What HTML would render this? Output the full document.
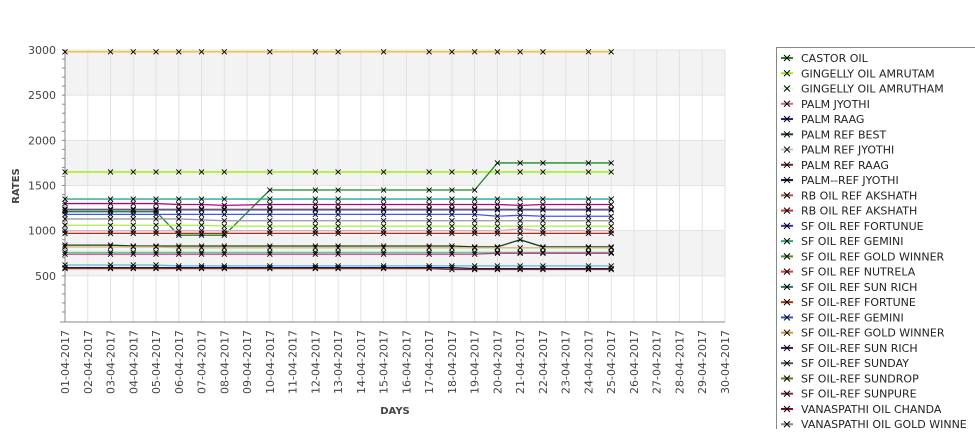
<!DOCTYPE html>
<html><head><meta charset="utf-8"><style>
body{margin:0;background:#fff;font-family:"DejaVu Sans","Liberation Sans",sans-serif}
svg text{font-family:"DejaVu Sans","Liberation Sans",sans-serif}
</style></head><body>
<svg id="chart" width="975" height="429" xmlns="http://www.w3.org/2000/svg">
<g id="bands"></g><g id="grid"></g><g id="axes"></g><g id="series"></g><g id="legend"></g>
</svg>
<script>
const dayLabels=["01","02","03","04","05","06","07","08","09","10","11","12","13","14","15","16","17","18","19","20","21","22","23","24","25","26","27","28","29","30"];
const presentDays=[1,3,4,5,6,7,8,10,12,13,15,17,18,19,20,21,22,24,25];
const yTicks=[500,1000,1500,2000,2500,3000];
const sCastor=[1210,1210,1210,1210,950,950,950,1450,1450,1450,1450,1450,1450,1450,1750,1750,1750,1750,1750];
const sGingelly=[1650,1650,1650,1650,1650,1650,1650,1650,1650,1650,1650,1650,1650,1650,1650,1650,1650,1650,1650];
const sTop=[2980,2980,2980,2980,2980,2980,2980,2980,2980,2980,2980,2980,2980,2980,2980,2980,2980,2980,2980];
const sTeal=[1350,1350,1350,1350,1350,1350,1350,1350,1350,1350,1350,1350,1350,1350,1350,1350,1350,1350,1350];
const sMagenta=[1300,1300,1300,1300,1290,1290,1280,1290,1290,1290,1290,1290,1290,1290,1290,1280,1290,1290,1290];
const sSalmon=[1240,1240,1240,1240,1240,1240,1240,1240,1240,1240,1240,1240,1240,1240,1240,1240,1240,1240,1240];
const sNavy=[1230,1230,1230,1230,1230,1230,1230,1230,1230,1230,1230,1230,1230,1230,1230,1230,1230,1230,1230];
const sBlue=[1180,1180,1180,1180,1180,1180,1180,1180,1180,1180,1180,1180,1180,1180,1160,1170,1160,1160,1160];
const sGrey=[1130,1130,1130,1130,1130,1120,1110,1110,1110,1110,1110,1110,1110,1110,1110,1110,1110,1110,1110];
const sLime=[1060,1060,1060,1060,1060,1060,1050,1050,1050,1050,1050,1050,1050,1050,1050,1050,1050,1050,1050];
const sPink=[1000,1000,1000,1000,1000,1000,1000,1000,1000,1000,1000,1000,1000,1000,1000,1020,1000,1000,1000];
const sBrown=[970,970,970,970,970,970,970,970,970,970,970,970,970,970,970,970,970,970,970];
const sDark=[840,840,830,830,830,830,830,830,830,830,830,830,830,820,820,900,820,820,820];
const sTan=[820,820,820,820,810,810,810,810,810,810,810,810,810,810,810,810,810,810,810];
const sGreen=[760,760,760,760,760,760,760,760,760,760,760,760,760,760,760,760,760,760,760];
const sPinkLow=[740,740,740,740,740,740,740,740,740,740,740,740,740,740,750,750,750,750,750];
const sCyan=[620,620,620,620,610,610,610,610,610,610,610,610,610,610,610,610,610,610,610];
const sNavyLow=[590,590,590,590,590,590,590,590,590,590,590,590,590,580,580,580,580,580,580];
const sBrownLow=[580,580,580,580,580,580,580,580,580,580,580,580,570,570,570,570,570,570,570];
const seriesList=[[sTop,"#f0c020"],[sGingelly,"#99ee00"],[sCastor,"#228822"],[sTeal,"#22aa88"],[sMagenta,"#bb0088"],[sSalmon,"#dd9977"],[sNavy,"#2244aa"],[sBlue,"#4455ee"],[sGrey,"#999999"],[sLime,"#aaee44"],[sPink,"#ddaacc"],[sBrown,"#aa3311"],[sDark,"#114422"],[sTan,"#ddbb77"],[sGreen,"#22ee88"],[sPinkLow,"#dd2288"],[sCyan,"#66bbcc"],[sNavyLow,"#111177"],[sBrownLow,"#883322"]];
const legendNames=["CASTOR OIL","GINGELLY OIL AMRUTAM","GINGELLY OIL AMRUTHAM","PALM JYOTHI","PALM RAAG","PALM REF BEST","PALM REF JYOTHI","PALM REF RAAG","PALM--REF JYOTHI","RB OIL REF  AKSHATH","RB OIL REF AKSHATH","SF OIL REF FORTUNUE","SF OIL REF GEMINI","SF OIL REF GOLD WINNER","SF OIL REF NUTRELA","SF OIL REF SUN RICH","SF OIL-REF FORTUNE","SF OIL-REF GEMINI","SF OIL-REF GOLD WINNER","SF OIL-REF SUN RICH","SF OIL-REF SUNDAY","SF OIL-REF SUNDROP","SF OIL-REF SUNPURE","VANASPATHI OIL CHANDA","VANASPATHI OIL GOLD WINNE"];
const legendColors=["#228822","#99ee00","#ccffcc","#cc6699","#222288","#224422","#ccbbdd","#772222","#111155","#aa5533","#cc3333","#3333aa","#22aa77","#558822","#dd3333","#227766","#aa3300","#3355cc","#cc9922","#441166","#555555","#777700","#882255","#880033","#888888"];
const NS="http://www.w3.org/2000/svg";
const L=65,R=725,T=50,B=322;
function x(d){return L+(d-1)*(R-L)/29;}
function yy(v){return 321-v*(271/3000);}
function mk(tag,attrs,parent){const e=document.createElementNS(NS,tag);for(const k in attrs)e.setAttribute(k,attrs[k]);parent.appendChild(e);return e;}
const bands=document.getElementById('bands'),grid=document.getElementById('grid'),axes=document.getElementById('axes'),ser=document.getElementById('series'),leg=document.getElementById('legend');
[[2500,3000],[1500,2000],[500,1000]].forEach(b=>{const r=mk('rect',{x:L,y:yy(b[1]),width:R-L,height:yy(b[0])-yy(b[1]),fill:'#f3f3f3'},bands);

});
dayLabels.forEach((lb,i)=>{const gx=x(i+1);const l=mk('line',{x1:gx,x2:gx,y1:T,y2:B,stroke:'#e2e2e2'},grid);


const t=mk('text',{x:0,y:0,'font-size':11,fill:'#444','text-anchor':'end',transform:`translate(${gx+4},${B+8}) rotate(-90)`},axes);t.textContent=lb+"-04-2017";

});
yTicks.forEach(v=>{const l=mk('line',{x1:L,x2:R,y1:yy(v),y2:yy(v),stroke:'#e2e2e2'},grid);


const t=mk('text',{x:56,y:yy(v)+4,'font-size':11,fill:'#444','text-anchor':'end'},axes);t.textContent=v;

});
for(let v=100;v<=3000;v+=100){mk('line',{x1:L-3,x2:L,y1:yy(v),y2:yy(v),stroke:'#888'},axes);}
mk('line',{x1:L,x2:L,y1:T,y2:B,stroke:'#888'},axes);
mk('line',{x1:L-5,x2:R,y1:B,y2:B,stroke:'#888'},axes);
const yt=mk('text',{x:0,y:0,'font-size':10,'font-weight':'bold',fill:'#444','text-anchor':'middle',transform:'translate(19,186) rotate(-90)'},axes);yt.textContent='RATES';


const xt=mk('text',{x:395,y:414,'font-size':10,'font-weight':'bold',fill:'#444','text-anchor':'middle'},axes);xt.textContent='DAYS';


seriesList.forEach(s=>{const vals=s[0];const pts=vals.map((v,i)=>x(presentDays[i])+','+yy(v)).join(' ');
const p=mk('polyline',{points:pts,fill:'none',stroke:s[1],'stroke-width':1.3},ser);


vals.forEach((v,i)=>{const cx=x(presentDays[i]),cy=yy(v);
const m=mk('path',{d:`M${cx-2.5},${cy-2.5}L${cx+2.5},${cy+2.5}M${cx-2.5},${cy+2.5}L${cx+2.5},${cy-2.5}`,stroke:'#000','stroke-width':0.9},ser);

});});
const box=mk('rect',{x:776.5,y:47.5,width:210,height:400,fill:'#fff',stroke:'#888'},leg);


legendNames.forEach((n,i)=>{const ly=58+i*15.26;const g=mk('g',{},leg);


mk('line',{x1:781,x2:793,y1:ly,y2:ly,stroke:legendColors[i],'stroke-width':2},g);
mk('path',{d:`M784,${ly-3}L790,${ly+3}M784,${ly+3}L790,${ly-3}`,stroke:'#000'},g);
const t=mk('text',{x:801,y:ly+4,'font-size':11,fill:'#222'},g);t.textContent=n;});
</script>
</body></html>
